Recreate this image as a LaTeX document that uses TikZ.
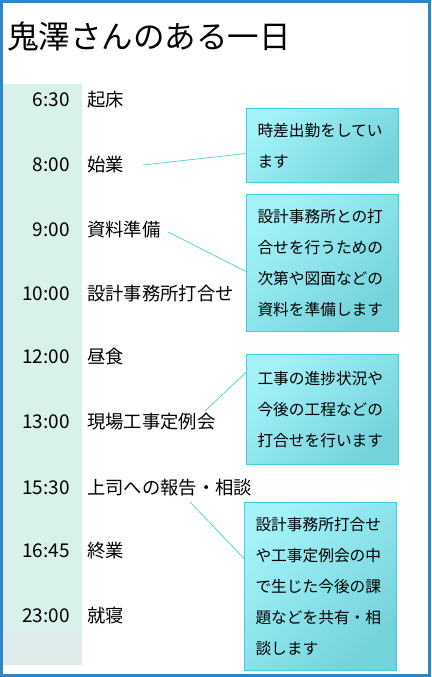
\documentclass[tikz,border=0pt]{standalone}
\usepackage{fontspec}
\setmainfont{Noto Sans CJK JP}
\definecolor{frameblue}{HTML}{2E86C8}
\definecolor{mint}{HTML}{D8F1EA}
\definecolor{mintgray}{HTML}{DEEBEA}
\definecolor{notetop}{HTML}{A2F2F8}
\definecolor{notebot}{HTML}{74D2DB}
\definecolor{noteline}{HTML}{3FCFDF}
\definecolor{connline}{HTML}{55D6E0}
\begin{document}
\begin{tikzpicture}[x=1pt,y=-1pt,line width=0.75pt,
  timelbl/.style={anchor=east,inner sep=0pt,font=\fontsize{19}{19}\selectfont},
  eventlbl/.style={anchor=west,inner sep=0pt,font=\fontsize{18.3}{19}\selectfont},
  note/.style={anchor=north west,draw=noteline,line width=1pt,
    top color=notetop,bottom color=notebot,shading angle=45,
    inner sep=0pt,minimum width=152,text width=130,align=left,
    font=\fontsize{15.7}{31}\selectfont},
  conn/.style={draw=connline,line width=0.8pt}]
\useasboundingbox (0,0) rectangle (431,677);
% ---- frame and time column ----
\fill[mint] (3,84) rectangle (82,632);
\fill[mintgray] (3,632) rectangle (82,665);
\draw[frameblue,line width=3pt] (1.5,1.5) rectangle (429.5,675.5);
\node[anchor=west,inner sep=0pt,font=\fontsize{31.5}{32}\selectfont] (title) at (7,36) {鬼澤さんのある一日};
% ---- schedule rows ----
\foreach \n/\y/\t/\e in {
  1/100/6:30/起床, 2/165/8:00/始業, 3/230/9:00/資料準備,
  4/294/10:00/設計事務所打合せ, 5/357/12:00/昼食, 6/422/13:00/現場工事定例会,
  7/488/15:30/上司への報告・相談, 8/551/16:45/終業, 9/616/23:00/就寝%
}{
  \node[timelbl] (time\n) at (70,\y) {\t};
  \node[eventlbl] (event\n) at (87,\y) {\e};
}
% ---- notes ----
\node[note,minimum height=74] (note1) at (246,108) {時差出勤をしてい\\ます};
\node[note,minimum height=137] (note2) at (246,194) {設計事務所との打\\合せを行うための\\次第や図面などの\\資料を準備します};
\node[note,minimum height=110] (note3) at (246,354) {工事の進捗状況や\\今後の工程などの\\打合せを行います};
\node[note,minimum height=168] (note4) at (244,502) {設計事務所打合せ\\や工事定例会の中\\で生じた今後の課\\題などを共有・相\\談します};
% ---- connectors ----
\coordinate (from1) at (143,165);
\coordinate (from2) at (168,232);
\coordinate (from3) at (205,411);
\coordinate (from4) at (190,502);
\draw[conn] (from1) -- ([yshift=-8]note1.west);
\draw[conn] (from2) -- ([yshift=-8.5]note2.west);
\draw[conn] (from3) -- ([yshift=37]note3.west);
\draw[conn] (from4) -- ([yshift=28]note4.west);
\end{tikzpicture}
\end{document}
